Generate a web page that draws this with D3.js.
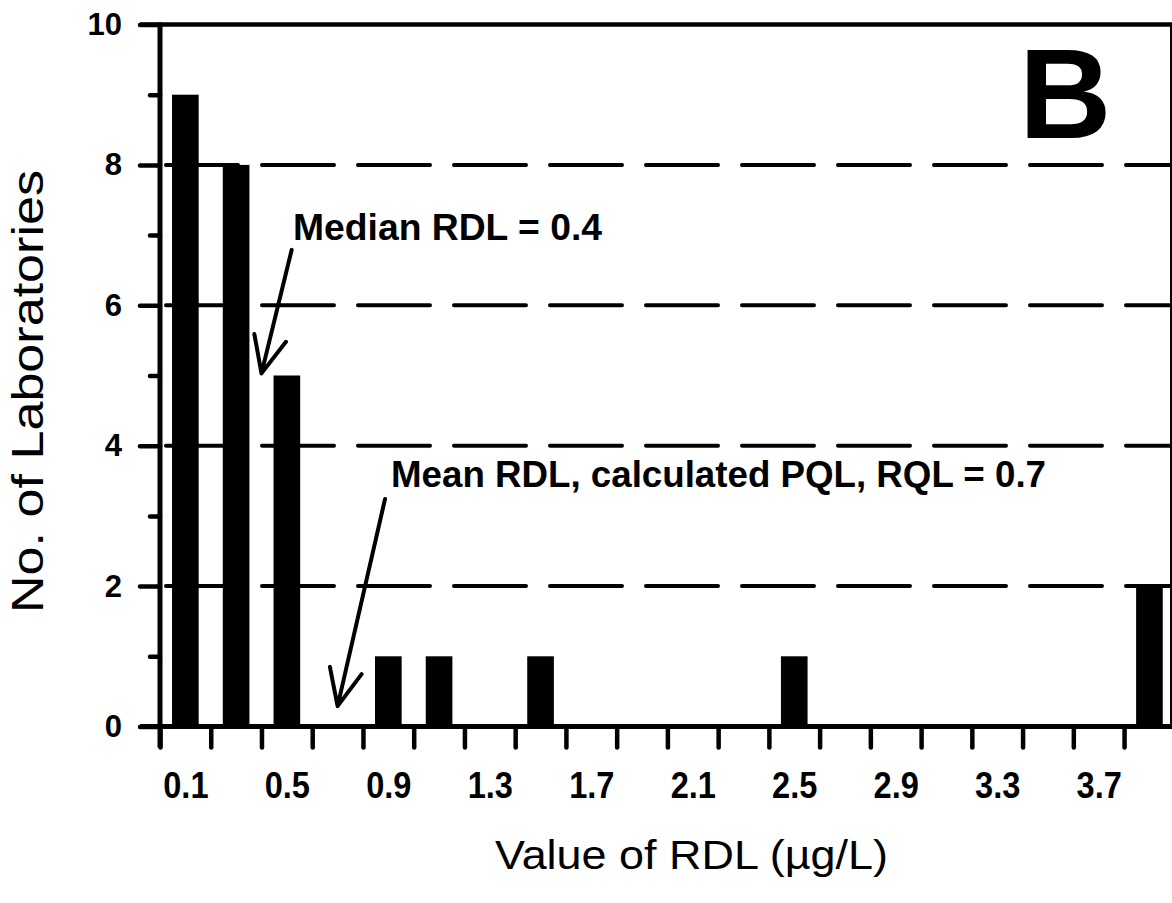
<!DOCTYPE html>
<html>
<head>
<meta charset="utf-8">
<script src="https://cdn.jsdelivr.net/npm/d3@7"></script>
<style>
  html, body { margin: 0; padding: 0; background: #fff; }
  svg { display: block; font-family: "Liberation Sans", Arial, Helvetica, sans-serif; }
</style>
</head>
<body>
<svg id="chart" width="1172" height="903"></svg>
<script>
// RDL histogram: number of laboratories reporting each RDL value (µg/L)
const rdlValues   = [0.1, 0.3, 0.5, 0.9, 1.1, 1.5, 2.5, 3.9];
const labCounts   = [9,   8,   5,   1,   1,   1,   1,   2];
const xTickLabels = [0.1, 0.5, 0.9, 1.3, 1.7, 2.1, 2.5, 2.9, 3.3, 3.7];
const yTickLabels = [0, 2, 4, 6, 8, 10];
const yMinorTicks = [1, 3, 5, 7, 9];
const gridValues  = [2, 4, 6, 8];
const annoText    = ["Median RDL = 0.4", "Mean RDL, calculated PQL, RQL = 0.7"];
const annoTarget  = [0.4, 0.7];          // RDL values the arrows point at
const panelLetter = "B";

const W = 1172, H = 903;
const svg = d3.select("#chart");

const x = d3.scaleLinear().domain([0, 4]).range([160, 160 + 4 * 253.7]);
const y = d3.scaleLinear().domain([0, 10]).range([726.5, 24.5]);
const barW = 0.105;

// dashed horizontal grid
svg.append("g").selectAll("line").data(gridValues).join("line")
  .attr("x1", 166).attr("x2", W)
  .attr("y1", d => y(d)).attr("y2", d => y(d))
  .attr("stroke", "#000").attr("stroke-width", 4)
  .attr("stroke-linecap", "round")
  .attr("stroke-dasharray", "72,24");

// solid top line at 10
svg.append("line")
  .attr("x1", 140).attr("x2", W).attr("y1", y(10)).attr("y2", y(10))
  .attr("stroke", "#000").attr("stroke-width", 4.5);

// bars
const data = rdlValues.map((v, i) => ({ v, n: labCounts[i] }));
svg.append("g").selectAll("rect").data(data).join("rect")
  .attr("x", d => x(d.v - barW / 2))
  .attr("width", d => x(d.v + barW / 2) - x(d.v - barW / 2))
  .attr("y", d => y(d.n))
  .attr("height", d => y(0) - y(d.n))
  .attr("fill", "#000");

// y axis: major + minor ticks
const yMajor = svg.append("g").attr("transform", "translate(160,0)")
  .call(d3.axisLeft(y).tickValues(yTickLabels).tickSize(20).tickPadding(18).tickFormat(d3.format("d")));
const yMinor = svg.append("g").attr("transform", "translate(160,0)")
  .call(d3.axisLeft(y).tickValues(yMinorTicks).tickSize(10).tickFormat(""));
[yMajor, yMinor].forEach(g => {
  g.select(".domain").remove();
  g.selectAll(".tick line").attr("stroke", "#000").attr("stroke-width", 4.5).attr("stroke-linecap", "round");
});
yMajor.selectAll(".tick text")
  .attr("fill", "#000").attr("font-size", 31).attr("font-weight", "bold")
  .attr("font-family", "Liberation Sans, Arial, sans-serif");

// x axis ticks every 0.2
const xTickVals = d3.range(0, 20).map(i => +(i * 0.2).toFixed(1));
const xTicks = svg.append("g").attr("transform", `translate(0,${y(0)})`)
  .call(d3.axisBottom(x).tickValues(xTickVals).tickSize(21).tickFormat(""));
xTicks.select(".domain").remove();
xTicks.selectAll(".tick line").attr("stroke", "#000").attr("stroke-width", 4.5).attr("stroke-linecap", "round");

// x tick labels (condensed bold)
const xLab = svg.append("g").attr("transform", `translate(0,${y(0)})`)
  .call(d3.axisBottom(x).tickValues(xTickLabels).tickSize(0).tickFormat(d3.format(".1f")));
xLab.select(".domain").remove();
xLab.selectAll(".tick text")
  .attr("fill", "#000").attr("font-size", 37).attr("font-weight", "bold")
  .attr("font-family", "Liberation Sans, Arial, sans-serif")
  .attr("dy", null).attr("y", 71.5)
  .attr("transform", "scale(0.88,1)");

// axis lines
svg.append("line").attr("x1", 140).attr("x2", W).attr("y1", y(0)).attr("y2", y(0))
  .attr("stroke", "#000").attr("stroke-width", 5);
svg.append("line").attr("x1", 160).attr("x2", 160).attr("y1", y(10) - 2).attr("y2", y(0) + 21)
  .attr("stroke", "#000").attr("stroke-width", 5);
svg.append("line").attr("x1", W - 1).attr("x2", W - 1).attr("y1", y(10)).attr("y2", y(0))
  .attr("stroke", "#000").attr("stroke-width", 2);

// axis titles
svg.append("text")
  .attr("transform", "translate(43,391.5) rotate(-90)")
  .attr("text-anchor", "middle").attr("font-size", 44)
  .attr("textLength", 443).attr("lengthAdjust", "spacingAndGlyphs")
  .attr("fill", "#000").text("No. of Laboratories");
svg.append("text")
  .attr("x", 691.5).attr("y", 869)
  .attr("text-anchor", "middle").attr("font-size", 40)
  .attr("textLength", 393).attr("lengthAdjust", "spacingAndGlyphs")
  .attr("fill", "#000").text("Value of RDL (µg/L)");

// panel letter
svg.append("text")
  .attr("x", 1019).attr("y", 138)
  .attr("font-size", 128).attr("font-weight", "bold").attr("fill", "#000")
  .text(panelLetter);

// annotations with arrows
const annos = [
  { text: annoText[0], tx: 293, ty: 240, len: 309, from: [0.519, 6.79], to: [annoTarget[0], 5.03] },
  { text: annoText[1], tx: 391, ty: 487, len: 655, from: [0.887, 3.24], to: [annoTarget[1], 0.29] }
];
const ag = svg.append("g");
annos.forEach(a => {
  ag.append("text")
    .attr("x", a.tx).attr("y", a.ty)
    .attr("font-size", 37).attr("font-weight", "bold").attr("fill", "#000")
    .attr("textLength", a.len).attr("lengthAdjust", "spacingAndGlyphs")
    .text(a.text);
  const x0 = x(a.from[0]), y0 = y(a.from[1]);
  const x1 = x(a.to[0]),   y1 = y(a.to[1]);
  const ang = Math.atan2(y0 - y1, x0 - x1);
  const L = 40, spread = 24 * Math.PI / 180;
  const w1 = [x1 + L * Math.cos(ang - spread), y1 + L * Math.sin(ang - spread)];
  const w2 = [x1 + L * Math.cos(ang + spread), y1 + L * Math.sin(ang + spread)];
  const p = d3.path();
  p.moveTo(x0, y0); p.lineTo(x1, y1);
  p.moveTo(w1[0], w1[1]); p.lineTo(x1, y1); p.lineTo(w2[0], w2[1]);
  ag.append("path").attr("d", p.toString())
    .attr("fill", "none").attr("stroke", "#000").attr("stroke-width", 4)
    .attr("stroke-linecap", "round").attr("stroke-linejoin", "round");
});
</script>
</body>
</html>
